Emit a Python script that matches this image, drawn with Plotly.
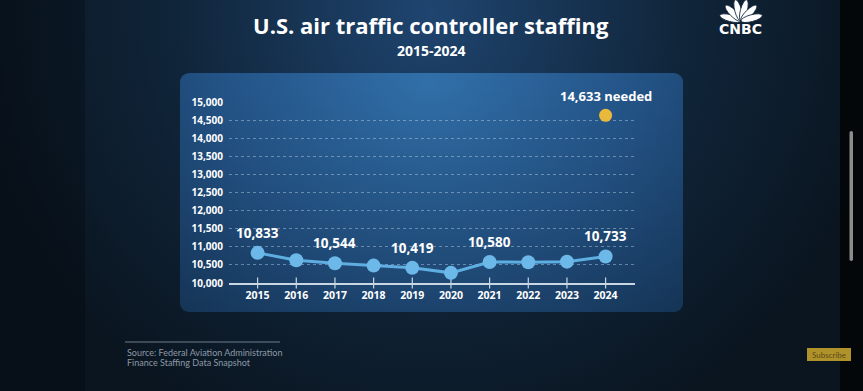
import base64
import plotly.graph_objects as go

# ---- data ----
years = [2015, 2016, 2017, 2018, 2019, 2020, 2021, 2022, 2023, 2024]
staffing = [10833, 10630, 10544, 10480, 10419, 10280, 10580, 10575, 10590, 10733]
label_years = [2015, 2017, 2019, 2021, 2024]
needed_year = [2024]
needed_value = [14633]
y_ticks = list(range(10000, 15001, 500))
y_min = 10000

W, H = 863, 391
L, R, T, B = 229, 228, 102, 108
pw, ph = W - L - R, H - T - B

def px_x(p):
    return (p - L) / pw

def px_y(p):
    return 1 - (p - T) / ph

# ---- decorative background (gradients, logo feathers) as SVG ----
feathers = ""
for a in (-75, -45, -15, 15, 45, 75):
    import math
    cx = 741 + 11 * math.sin(math.radians(a))
    cy = 21 - 11 * math.cos(math.radians(a))
    feathers += (f'<ellipse cx="{cx:.2f}" cy="{cy:.2f}" rx="3.4" ry="11" '
                 f'transform="rotate({a} {cx:.2f} {cy:.2f})" fill="#ffffff" '
                 f'stroke="#10243a" stroke-width="0.8"/>')

svg = f'''<svg xmlns="http://www.w3.org/2000/svg" width="{W}" height="{H}" viewBox="0 0 {W} {H}">
<defs>
<radialGradient id="bg" gradientUnits="userSpaceOnUse" cx="430" cy="10" r="460">
<stop offset="0" stop-color="#1f4570"/><stop offset="0.55" stop-color="#10253a"/><stop offset="1" stop-color="#0a1520"/>
</radialGradient>
<radialGradient id="pn" gradientUnits="userSpaceOnUse" cx="430" cy="85" r="330">
<stop offset="0" stop-color="#3170aa"/><stop offset="0.6" stop-color="#245589"/><stop offset="1" stop-color="#1a416b"/>
</radialGradient>
<linearGradient id="sh" x1="0" y1="0" x2="0" y2="1">
<stop offset="0" stop-color="#000" stop-opacity="0"/><stop offset="1" stop-color="#000" stop-opacity="0.18"/>
</linearGradient>
</defs>
<rect width="{W}" height="{H}" fill="url(#bg)"/>
<rect width="85" height="{H}" fill="#000" opacity="0.22"/>
<rect x="840" width="23" height="{H}" fill="#03070a"/>
<rect x="180" y="73" width="503" height="239" rx="9" fill="url(#pn)"/>
<rect x="180" y="73" width="503" height="239" rx="9" fill="url(#sh)"/>
{feathers}
<rect x="849.5" y="131" width="3.5" height="130" rx="1.7" fill="#8c8c8c"/>
<rect x="807" y="348" width="44" height="13" fill="#b0922a"/>
<line x1="125" y1="342" x2="280" y2="342" stroke="#6f7e8d" stroke-width="1"/>
</svg>'''
svg_uri = "data:image/svg+xml;base64," + base64.b64encode(svg.encode()).decode()

fig = go.Figure()

# x tick marks crossing the baseline
fig.add_trace(go.Scatter(
    x=years, y=[y_min] * len(years), mode="markers",
    marker=dict(symbol="line-ns", size=8, line=dict(color="#c9d6e4", width=1.2)),
    cliponaxis=False, hoverinfo="skip", showlegend=False,
))
fig.add_trace(go.Scatter(
    x=years, y=staffing, mode="lines+markers",
    line=dict(color="#5eaee2", width=3),
    marker=dict(color="#6cb8e8", size=14),
    cliponaxis=False, hoverinfo="skip", showlegend=False,
))
fig.add_trace(go.Scatter(
    x=needed_year, y=needed_value, mode="markers",
    marker=dict(color="#e9b93c", size=13),
    cliponaxis=False, hoverinfo="skip", showlegend=False,
))

F = "Open Sans"
annotations = []
for yr, v in zip(years, staffing):
    if yr in label_years:
        annotations.append(dict(
            x=yr, y=v, xref="x", yref="y", text=f"{v:,}", showarrow=False,
            xanchor="center", yanchor="middle", yshift=20,
            font=dict(family=F, size=13.5, color="white", weight="bold"),
        ))
for yr, v in zip(needed_year, needed_value):
    annotations.append(dict(
        x=yr, y=v, xref="x", yref="y", text=f"{v:,} needed", showarrow=False,
        xanchor="center", yanchor="middle", yshift=19,
        font=dict(family=F, size=13, color="white", weight="bold"),
    ))

def note(px, py, text, font, xanchor="center"):
    return dict(x=px_x(px), y=px_y(py), xref="paper", yref="paper", showarrow=False,
                xanchor=xanchor, yanchor="middle", text=text, font=font)

annotations += [
    note(431, 25, "U.S. air traffic controller staffing",
         dict(family=F, size=22, color="white", weight="bold")),
    note(431, 50, "2015-2024", dict(family=F, size=14, color="white", weight="bold")),
    note(740, 28.5, "CNBC", dict(family="DejaVu Sans", size=14, color="white", weight="bold")),
    note(125, 352, "Source: Federal Aviation Administration",
         dict(family="Lato", size=9, color="#8d99a6"), xanchor="left"),
    note(125, 362, "Finance Staffing Data Snapshot",
         dict(family="Lato", size=9, color="#8d99a6"), xanchor="left"),
    note(829, 354.5, "Subscribe", dict(family="Lato", size=8, color="#5a4a18")),
]

fig.update_layout(
    width=W, height=H,
    margin=dict(l=L, r=R, t=T, b=B, pad=0),
    paper_bgcolor="#0b1724", plot_bgcolor="rgba(0,0,0,0)",
    images=[dict(source=svg_uri, xref="paper", yref="paper",
                 x=-L / pw, y=1 + T / ph, sizex=W / pw, sizey=H / ph,
                 xanchor="left", yanchor="top", sizing="stretch", layer="below")],
    annotations=annotations,
    showlegend=False,
    xaxis=dict(
        range=[2014.26, 2024.76], tickvals=years, ticktext=[str(y) for y in years],
        showgrid=False, zeroline=False, showline=True, linecolor="#c9d6e4", linewidth=1.5,
        ticks="", ticklabelstandoff=2,
        tickfont=dict(family=F, size=10.5, color="white", weight="bold"),
        fixedrange=True,
    ),
    yaxis=dict(
        range=[10000, 15000], tickvals=y_ticks, ticktext=[f"{v:,}" for v in y_ticks],
        showgrid=True, gridcolor="rgba(190,215,240,0.45)", griddash="dot", gridwidth=1,
        zeroline=False, showline=False, ticks="", ticklabelstandoff=5,
        tickfont=dict(family=F, size=10, color="white", weight="bold"),
        fixedrange=True,
    ),
)

fig.write_html("out.html", config={"displayModeBar": False},
               post_script="document.body.style.margin='0px';document.body.style.overflow='hidden';")
